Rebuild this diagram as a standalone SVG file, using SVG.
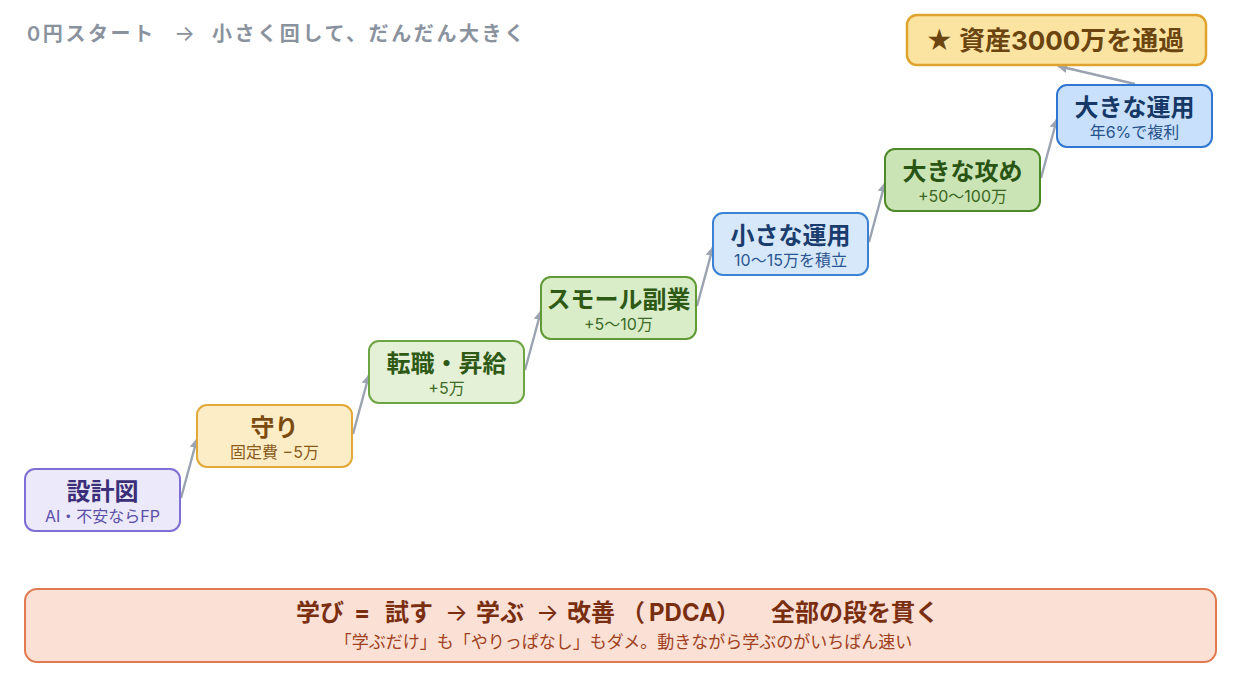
<svg xmlns="http://www.w3.org/2000/svg" width="1240" height="680" viewBox="0 0 1240 680">
<defs>
<marker id="ah" viewBox="0 0 10 10" refX="9" refY="5" markerWidth="10" markerHeight="10" markerUnits="userSpaceOnUse" orient="auto">
<path d="M0,0 L10,5 L0,10 Z" fill="#9ba3b0"/>
</marker>
<style>
text{font-family:"Inter","Noto Sans CJK JP",sans-serif;}
.t{font-size:24px;font-weight:700;text-anchor:middle;}
.s{font-size:16px;text-anchor:middle;}
.box{stroke-width:2;}
.edge{stroke:#9ba3b0;stroke-width:2.4;fill:none;marker-end:url(#ah);}
.ar{font-weight:400;}
</style>
</defs>
<rect width="1240" height="680" fill="#ffffff"/>
<text y="41" font-size="20" font-weight="600" fill="#8a929e" letter-spacing="2.6"><tspan x="27">0円スタート</tspan><tspan x="174" font-weight="400" letter-spacing="0" font-size="22">→</tspan><tspan x="212">小さく回して、だんだん大きく</tspan></text>

<g id="connectors">
<path class="edge" d="M181,498 L197,439"/>
<path class="edge" d="M353,434 L369,375"/>
<path class="edge" d="M525,370 L541,311"/>
<path class="edge" d="M697,306 L713,247"/>
<path class="edge" d="M869,242 L885,183"/>
<path class="edge" d="M1041,178 L1057,119"/>
<path class="edge" d="M1135,84 L1058,66"/>
</g>

<g id="n1">
<rect class="box" x="25" y="469" width="155" height="62" rx="10" fill="#ece9fa" stroke="#7d6fd6"/>
<text class="t" x="102.5" y="500" fill="#3a2f78">設計図</text>
<text class="s" x="102.5" y="522" fill="#5b4fa8">AI・不安ならFP</text>
</g>
<g id="n2">
<rect class="box" x="197" y="405" width="155" height="62" rx="10" fill="#fdedc6" stroke="#e3a83a"/>
<text class="t" x="274.5" y="436" fill="#7b4a0e">守り</text>
<text class="s" x="274.5" y="458" fill="#8a5a1a">固定費 −5万</text>
</g>
<g id="n3">
<rect class="box" x="369" y="341" width="155" height="62" rx="10" fill="#e4f1d6" stroke="#6ea544"/>
<text class="t" x="446.5" y="372" fill="#2e5a16">転職・昇給</text>
<text class="s" x="446.5" y="394" fill="#3e6a26">+5万</text>
</g>
<g id="n4">
<rect class="box" x="541" y="277" width="155" height="62" rx="10" fill="#d9edc9" stroke="#5f9a35"/>
<text class="t" x="618.5" y="308" fill="#2e5a16">スモール副業</text>
<text class="s" x="618.5" y="330" fill="#3e6a26">+5〜10万</text>
</g>
<g id="n5">
<rect class="box" x="713" y="213" width="155" height="62" rx="10" fill="#d7e8fb" stroke="#3b82d4"/>
<text class="t" x="790.5" y="244" fill="#1b3d6e">小さな運用</text>
<text class="s" x="790.5" y="266" fill="#2a5590">10〜15万を積立</text>
</g>
<g id="n6">
<rect class="box" x="885" y="149" width="155" height="62" rx="10" fill="#cbe4b5" stroke="#4c8a27"/>
<text class="t" x="962.5" y="180" fill="#2a5414">大きな攻め</text>
<text class="s" x="962.5" y="202" fill="#3a6420">+50〜100万</text>
</g>
<g id="n7">
<rect class="box" x="1057" y="85" width="155" height="62" rx="10" fill="#c8e0fb" stroke="#2f77d0"/>
<text class="t" x="1134.5" y="116" fill="#163866">大きな運用</text>
<text class="s" x="1134.5" y="138" fill="#27528c">年6%で複利</text>
</g>
<g id="goal">
<rect x="907" y="15" width="299" height="50" rx="10" fill="#fbe3a1" stroke="#e0a42e" stroke-width="2.5"/>
<text x="1055" y="50" font-size="26" font-weight="700" text-anchor="middle" fill="#6b4510">★ 資産3000万を通過</text>
</g>
<g id="banner">
<rect x="25" y="589" width="1191" height="73" rx="12" fill="#fbe0d6" stroke="#e07a50" stroke-width="2"/>
<text y="621" font-size="24" font-weight="700" fill="#7a2e10"><tspan x="296">学び</tspan><tspan x="354">=</tspan><tspan x="385">試す</tspan><tspan x="445" class="ar">→</tspan><tspan x="476">学ぶ</tspan><tspan x="536" class="ar">→</tspan><tspan x="567">改善</tspan><tspan x="621">（</tspan><tspan x="649">PDCA</tspan><tspan x="716">）</tspan><tspan x="771">全部の段を貫く</tspan></text>
<text x="623.5" y="648" font-size="17" text-anchor="middle" fill="#a04020">「学ぶだけ」も「やりっぱなし」もダメ。動きながら学ぶのがいちばん速い</text>
</g>
</svg>
